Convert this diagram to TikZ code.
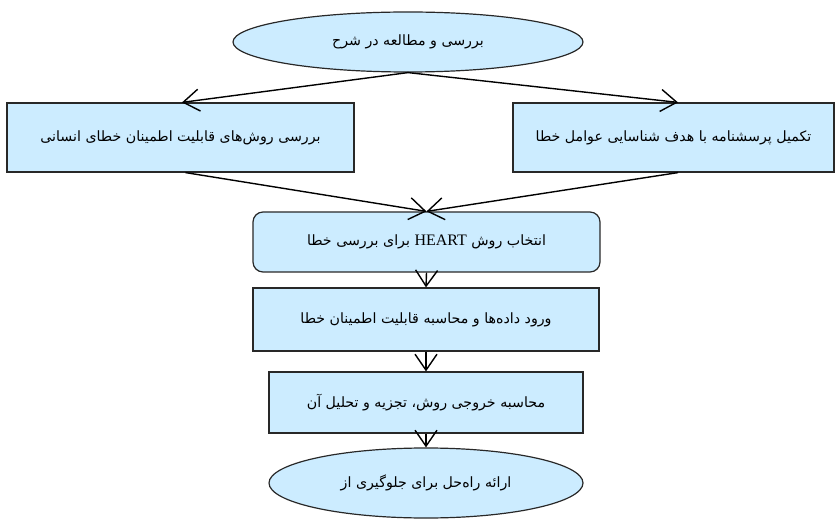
\documentclass[tikz,border=0pt]{standalone}
\usepackage{fontspec}
\usetikzlibrary{shapes.geometric,arrows.meta,calc}
\TeXXeTstate=1
\newfontfamily\fa[Script=Arabic]{DejaVu Sans}
\newfontfamily\latserif{Liberation Serif}
\definecolor{boxfill}{RGB}{204,236,255}
\definecolor{boxline}{RGB}{40,40,40}
\tikzset{
  base/.style={draw=boxline, fill=boxfill, line width=1.2pt, inner sep=0pt, font=\fa\fontsize{14.2}{16}\selectfont},
  rectbox/.style={base, rectangle},
  roundbox/.style={base, rectangle, rounded corners=10pt},
  ovalbox/.style={base, ellipse},
  arr/.style={line width=1.4pt, -{Straight Barb[length=16pt,width=22pt,line width=1.4pt]}}
}
\begin{document}
\begin{tikzpicture}[x=1pt,y=-1pt]
\useasboundingbox (0,0) rectangle (835,529);
\node[ovalbox, minimum width=350pt, minimum height=60pt] (top) at (408,42) {\beginR بررسی و مطالعه در شرح\endR};
\node[rectbox, minimum width=347pt, minimum height=69pt] (left) at (180.5,137.5) {\beginR بررسی روش‌های قابلیت اطمینان خطای انسانی\endR};
\node[rectbox, minimum width=321pt, minimum height=69pt] (right) at (673.5,137.5) {\beginR تکمیل پرسشنامه با هدف شناسایی عوامل خطا\endR};
\node[roundbox, minimum width=347pt, minimum height=60pt] (mid) at (426.5,242) {\beginR انتخاب روش \beginL{\latserif\fontsize{16}{18}\selectfont HEART}\endL{} برای بررسی خطا\endR};
\node[rectbox, minimum width=346pt, minimum height=63pt] (data) at (426,319.5) {\beginR ورود داده‌ها و محاسبه قابلیت اطمینان خطا\endR};
\node[rectbox, minimum width=314pt, minimum height=61pt] (calc) at (426,402.5) {\beginR محاسبه خروجی روش، تجزیه و تحلیل آن\endR};
\node[ovalbox, minimum width=314pt, minimum height=70pt] (sol) at (426,483) {\beginR ارائه راه‌حل برای جلوگیری از\endR};
\draw[arr] (top.south) -- ([xshift=1.5pt]left.north);
\draw[arr] (top.south) -- ([xshift=4.5pt]right.north);
\draw[arr] ([xshift=5pt]left.south) -- (mid.north);
\draw[arr] ([xshift=4.5pt]right.south) -- (mid.north);
\draw[arr] (mid.south) -- (data.north);
\draw[arr] (data.south) -- (calc.north);
\draw[arr] (calc.south) -- (sol.north);
\end{tikzpicture}
\end{document}
